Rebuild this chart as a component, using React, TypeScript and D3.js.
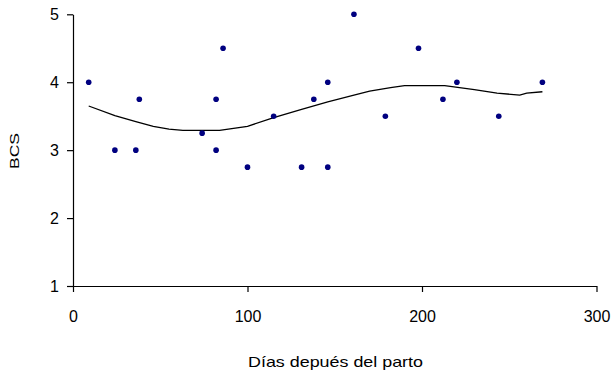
import { useEffect, useRef } from "react";
import * as d3 from "d3";

// observed points (días, BCS)
const dias = [9, 24, 36, 38, 74, 82, 82, 86, 100, 115, 131, 138, 146, 146, 161, 179, 198, 212, 220, 244, 269];
const bcs = [4, 3, 3, 3.75, 3.25, 3.75, 3, 4.5, 2.75, 3.5, 2.75, 3.75, 4, 2.75, 5, 3.5, 4.5, 3.75, 4, 3.5, 4];

// smoothed trend
const trendX = [9, 24, 36, 46, 55, 63, 74, 84, 100, 115, 131, 146, 161, 170, 182, 190, 213, 230, 243, 256, 260, 269];
const trendY = [3.65, 3.51, 3.42, 3.35, 3.31, 3.29, 3.29, 3.29, 3.35, 3.48, 3.6, 3.71, 3.81, 3.87, 3.92, 3.95, 3.95, 3.89, 3.84, 3.81, 3.84, 3.86];

const xTicks = [0, 100, 200, 300];
const yTicks = [1, 2, 3, 4, 5];

const xTitle = "Días depués del parto";
const yTitle = "BCS";

const App = () => {
    const ref = useRef<SVGSVGElement>(null);

    useEffect(() => {
        const svg = d3.select(ref.current);
        svg.selectAll("*").remove();

        const font = "'Liberation Sans', Arial, sans-serif";

        const x = d3.scaleLinear().domain([0, 300]).range([73, 596.5]);
        const y = d3.scaleLinear().domain([1, 5]).range([286, 14.3]);

        // Y axis
        const yAxis = svg.append("g")
            .attr("transform", `translate(${x(0)},0)`)
            .call(d3.axisLeft(y).tickValues(yTicks).tickFormat(d3.format("d")).tickSize(6).tickSizeOuter(0).tickPadding(8));
        yAxis.select(".domain").attr("stroke", "#000").attr("stroke-width", 1.2);
        yAxis.selectAll(".tick line").attr("stroke", "#000").attr("stroke-width", 1.2);
        yAxis.selectAll("text").attr("font-family", font).attr("font-size", 16).attr("fill", "#000");

        // X axis
        const xAxis = svg.append("g")
            .attr("transform", `translate(0,${y(1)})`)
            .call(d3.axisBottom(x).tickValues(xTicks).tickFormat(d3.format("d")).tickSize(6).tickSizeOuter(0).tickPadding(19));
        xAxis.select(".domain").attr("stroke", "#000").attr("stroke-width", 1.2);
        xAxis.selectAll(".tick line").attr("stroke", "#000").attr("stroke-width", 1.2);
        xAxis.selectAll("text").attr("font-family", font).attr("font-size", 16).attr("fill", "#000");

        // Axis titles
        svg.append("text")
            .attr("x", 335.5)
            .attr("y", 367)
            .attr("text-anchor", "middle")
            .attr("font-family", font)
            .attr("font-size", 15)
            .attr("textLength", 175)
            .attr("lengthAdjust", "spacingAndGlyphs")
            .attr("fill", "#000")
            .text(xTitle);

        svg.append("text")
            .attr("transform", "translate(19,151) rotate(-90)")
            .attr("text-anchor", "middle")
            .attr("font-family", font)
            .attr("font-size", 13)
            .attr("textLength", 36)
            .attr("lengthAdjust", "spacingAndGlyphs")
            .attr("fill", "#000")
            .text(yTitle);

        // Trend line
        const trend = trendX.map((d, i) => [d, trendY[i]] as [number, number]);
        const line = d3.line<[number, number]>()
            .x(d => x(d[0]))
            .y(d => y(d[1]));

        svg.append("path")
            .datum(trend)
            .attr("d", line)
            .attr("fill", "none")
            .attr("stroke", "#000")
            .attr("stroke-width", 1.3);

        // Points
        svg.selectAll(".dot")
            .data(dias.map((d, i) => ({ dia: d, bcs: bcs[i] })))
            .enter().append("circle")
            .attr("class", "dot")
            .attr("cx", d => x(d.dia))
            .attr("cy", d => y(d.bcs))
            .attr("r", 2.8)
            .attr("fill", "#000080");
    }, []);

    return (
        <svg
            ref={ref}
            width={616}
            height={374}
            style={{ position: "absolute", left: 0, top: 0, background: "#fff" }}
        />
    );
};

export default App;
